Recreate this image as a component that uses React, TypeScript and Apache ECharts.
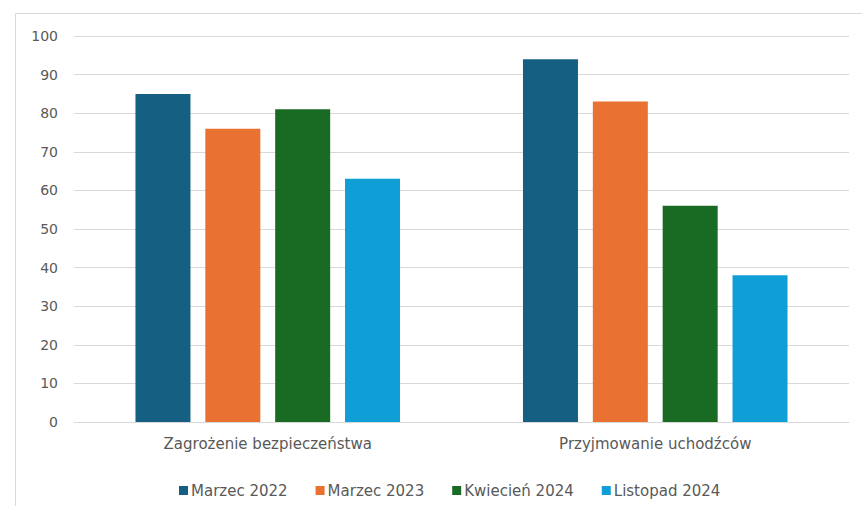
import React, { useEffect, useRef } from "react";
import * as echarts from "echarts";

const categories = ["Zagrożenie bezpieczeństwa", "Przyjmowanie uchodźców"];
const seriesNames = ["Marzec 2022", "Marzec 2023", "Kwiecień 2024", "Listopad 2024"];
const marzec2022 = [85, 94];
const marzec2023 = [76, 83];
const kwiecien2024 = [81, 56];
const listopad2024 = [63, 38];
const colors = ["#156082", "#E97132", "#196B24", "#0F9ED5"];

export default function App() {
  const ref = useRef<HTMLDivElement>(null);
  useEffect(() => {
    if (!ref.current) return;
    const chart = echarts.init(ref.current, undefined, { renderer: "svg" });
    const values = [marzec2022, marzec2023, kwiecien2024, listopad2024];
    const font = "DejaVu Sans";
    chart.setOption({
      animation: false,
      backgroundColor: "#ffffff",
      textStyle: { fontFamily: font },
      graphic: [
        {
          type: "rect",
          shape: { x: 15.5, y: 13.5, width: 900, height: 600 },
          style: { fill: "none", stroke: "#d9d9d9", lineWidth: 1 },
          silent: true,
        },
      ],
      grid: { left: 74, right: 13, top: 36, bottom: 84, containLabel: false },
      legend: {
        left: 174,
        top: 478,
        itemWidth: 9,
        itemHeight: 9,
        itemGap: 28,
        icon: "rect",
        textStyle: { color: "#595959", fontSize: 15, fontFamily: font, padding: [0, 0, 0, -2] },
        data: seriesNames,
      },
      xAxis: {
        type: "category",
        data: categories,
        axisTick: { show: false },
        axisLine: { lineStyle: { color: "#d9d9d9", width: 1 } },
        axisLabel: { color: "#595959", fontSize: 15, fontFamily: font, margin: 14 },
      },
      yAxis: {
        type: "value",
        min: 0,
        max: 100,
        interval: 10,
        axisLine: { show: false },
        axisTick: { show: false },
        splitLine: { lineStyle: { color: "#d9d9d9", width: 1 } },
        axisLabel: { color: "#595959", fontSize: 14, fontFamily: font, margin: 16 },
      },
      series: seriesNames.map((name, i) => ({
        name,
        type: "bar",
        data: values[i],
        barWidth: 55,
        barGap: "27%",
        itemStyle: { color: colors[i] },
      })),
    });
    return () => chart.dispose();
  }, []);
  return (
    <div
      ref={ref}
      style={{ position: "absolute", left: 0, top: 0, width: 862, height: 506 }}
    />
  );
}
